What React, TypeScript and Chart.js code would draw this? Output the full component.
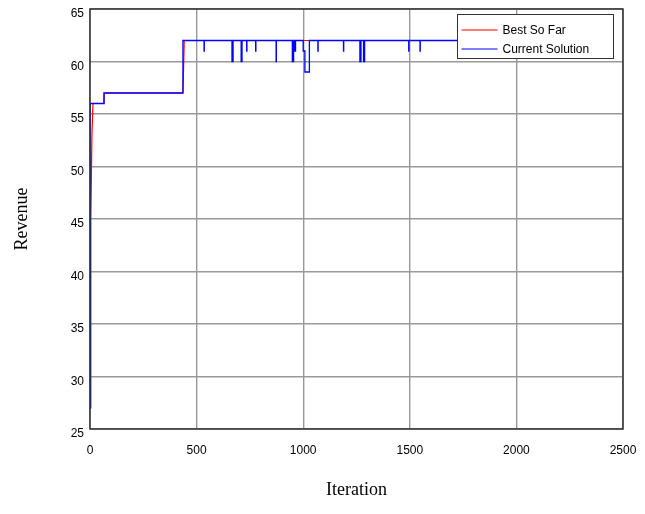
import React, { useEffect, useRef } from "react";
import { Chart, registerables } from "chart.js";

Chart.register(...registerables);

// Iteration at which the current solution changes, and its new revenue value
const currentIter = [0, 1, 66, 436, 535, 536, 666, 671, 709, 713, 735, 736, 777, 778, 873, 874, 949, 955, 961, 964, 1000, 1008, 1029, 1069, 1070, 1189, 1190, 1266, 1271, 1283, 1288, 1495, 1496, 1548, 1549, 2000];
const currentValue = [27, 56, 57, 62, 61, 62, 60, 62, 60, 62, 61, 62, 61, 62, 60, 62, 60, 62, 61, 62, 61, 59, 62, 61, 62, 61, 62, 60, 62, 60, 62, 61, 62, 61, 62, 62];

// Best so far
const bestIter = [0, 4, 9, 14, 65, 66, 436, 442, 2000];
const bestValue = [27, 45, 53, 56, 56, 57, 57, 62, 62];

const xMin = 0;
const xMax = 2500;
const xStep = 500;
const yMin = 25;
const yMax = 65;
const yStep = 5;

const seriesLabels = ["Best So Far", "Current Solution"];
const xTitle = "Iteration";
const yTitle = "Revenue";

const tickFont = { family: "'Liberation Sans', Arial, sans-serif", size: 12 };
const titleFont = { family: "'Liberation Serif', 'Times New Roman', serif", size: 18 };

const frameAndLegend = {
  id: "frameAndLegend",
  afterDraw(chart: any) {
    const { ctx, chartArea } = chart;
    const { left, top, right, bottom } = chartArea;
    ctx.save();
    // axes box
    ctx.strokeStyle = "#333333";
    ctx.lineWidth = 1.5;
    ctx.strokeRect(left, top, right - left, bottom - top);

    // legend box
    const boxW = 156;
    const boxH = 44;
    const bx = Math.round(right - 10 - boxW) + 0.5;
    const by = Math.round(top + 5) + 0.5;
    ctx.fillStyle = "#ffffff";
    ctx.fillRect(bx, by, boxW, boxH);
    ctx.strokeStyle = "#333333";
    ctx.lineWidth = 1;
    ctx.strokeRect(bx, by, boxW, boxH);
    ctx.font = "12px 'Liberation Sans', Arial, sans-serif";
    ctx.textBaseline = "middle";
    ctx.textAlign = "left";
    chart.data.datasets.forEach((ds: any, i: number) => {
      const ly = Math.round(by + 15 + i * 19);
      ctx.strokeStyle = ds.borderColor;
      ctx.lineWidth = 1.2;
      ctx.beginPath();
      ctx.moveTo(bx + 4, ly);
      ctx.lineTo(bx + 40, ly);
      ctx.stroke();
      ctx.fillStyle = "#000000";
      ctx.fillText(ds.label, bx + 45, ly + 0.5);
    });
    ctx.restore();
  },
};

export default function App() {
  const canvasRef = useRef<HTMLCanvasElement | null>(null);

  useEffect(() => {
    if (!canvasRef.current) return;
    const best = bestIter.map((x, i) => ({ x, y: bestValue[i] }));
    const current = currentIter.map((x, i) => ({ x, y: currentValue[i] }));
    const chart = new Chart(canvasRef.current, {
      type: "line",
      data: {
        datasets: [
          {
            label: seriesLabels[0],
            data: best,
            borderColor: "#ff0000",
            backgroundColor: "#ff0000",
            borderWidth: 1.2,
            pointRadius: 0,
            tension: 0,
            order: 2,
          },
          {
            label: seriesLabels[1],
            data: current,
            borderColor: "#0000ff",
            backgroundColor: "#0000ff",
            borderWidth: 1.3,
            pointRadius: 0,
            stepped: true,
            order: 1,
          },
        ],
      },
      plugins: [frameAndLegend],
      options: {
        responsive: false,
        animation: false,
        devicePixelRatio: 1,
        layout: { padding: { top: 9, right: 22, left: 0, bottom: 0 } },
        plugins: {
          legend: { display: false },
          tooltip: { enabled: false },
        },
        scales: {
          x: {
            type: "linear",
            min: xMin,
            max: xMax,
            afterFit: (s: any) => {
              s.height = 85;
              s.paddingLeft = 0;
              s.paddingRight = 0;
            },
            ticks: {
              stepSize: xStep,
              color: "#000",
              font: tickFont,
              padding: 14,
              maxRotation: 0,
              callback: (v: any) => String(v),
            },
            grid: { color: "#999999", lineWidth: 1.4, drawTicks: false },
            border: { display: false },
            title: {
              display: true,
              text: xTitle,
              color: "#000",
              font: titleFont,
              padding: { top: 0, bottom: 13 },
            },
          },
          y: {
            type: "linear",
            min: yMin,
            max: yMax,
            afterFit: (s: any) => {
              s.width = 90;
              s.paddingTop = 0;
              s.paddingBottom = 0;
            },
            ticks: {
              stepSize: yStep,
              color: "#000",
              font: tickFont,
              padding: 6,
              labelOffset: 5,
            },
            grid: { color: "#999999", lineWidth: 1.4, drawTicks: false },
            border: { display: false },
            title: {
              display: true,
              text: yTitle,
              color: "#000",
              font: titleFont,
              padding: { top: 11, bottom: 0 },
            },
          },
        },
      },
    });
    return () => chart.destroy();
  }, []);

  return (
    <div style={{ position: "absolute", left: 0, top: 0, width: 645, height: 514, background: "#fff" }}>
      <canvas ref={canvasRef} width={645} height={514} />
    </div>
  );
}
